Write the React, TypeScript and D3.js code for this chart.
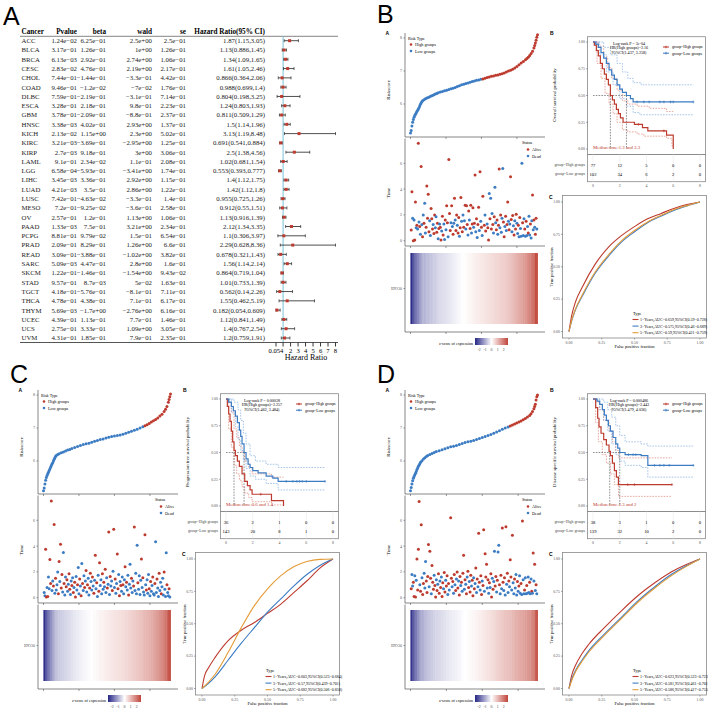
import React from "react";
import * as d3 from "d3";

// ---------- panel A : pan-cancer Cox table ----------
const cancers = ["ACC", "BLCA", "BRCA", "CESC", "CHOL", "COAD", "DLBC", "ESCA", "GBM", "HNSC", "KICH", "KIRC", "KIRP", "LAML", "LGG", "LIHC", "LUAD", "LUSC", "MESO", "OV", "PAAD", "PCPG", "PRAD", "READ", "SARC", "SKCM", "STAD", "TGCT", "THCA", "THYM", "UCEC", "UCS", "UVM"];
const pValues = ["1.24e−02", "3.17e−01", "6.13e−03", "2.83e−02", "7.44e−01", "9.46e−01", "7.59e−01", "3.28e−01", "3.78e−01", "3.38e−03", "2.13e−02", "3.21e−03", "2.7e−03", "9.1e−01", "6.58e−04", "3.45e−03", "4.21e−03", "7.42e−01", "7.2e−01", "2.57e−01", "1.33e−03", "8.81e−01", "2.09e−01", "3.09e−01", "5.09e−03", "1.22e−01", "9.57e−01", "4.18e−01", "4.78e−01", "5.69e−03", "4.39e−01", "2.75e−01", "4.31e−01"];
const betas = ["6.25e−01", "1.26e−01", "2.92e−01", "4.76e−01", "−1.44e−01", "−1.2e−02", "−2.19e−01", "2.18e−01", "−2.09e−01", "4.02e−01", "1.15e+00", "−3.69e−01", "9.18e−01", "2.34e−02", "−5.93e−01", "3.36e−01", "3.5e−01", "−4.63e−02", "−9.25e−02", "1.2e−01", "7.5e−01", "9.79e−02", "8.29e−01", "−3.88e−01", "4.47e−01", "−1.46e−01", "8.7e−03", "−5.76e−01", "4.38e−01", "−1.7e+00", "1.13e−01", "3.33e−01", "1.85e−01"];
const walds = ["2.5e+00", "1e+00", "2.74e+00", "2.19e+00", "−3.3e−01", "−7e−02", "−3.1e−01", "9.8e−01", "−8.8e−01", "2.93e+00", "2.3e+00", "−2.95e+00", "3e+00", "1.1e−01", "−3.41e+00", "2.92e+00", "2.86e+00", "−3.3e−01", "−3.6e−01", "1.13e+00", "3.21e+00", "1.5e−01", "1.26e+00", "−1.02e+00", "2.8e+00", "−1.54e+00", "5e−02", "−8.1e−01", "7.1e−01", "−2.76e+00", "7.7e−01", "1.09e+00", "7.9e−01"];
const ses = ["2.5e−01", "1.26e−01", "1.06e−01", "2.17e−01", "4.42e−01", "1.76e−01", "7.14e−01", "2.23e−01", "2.37e−01", "1.37e−01", "5.02e−01", "1.25e−01", "3.06e−01", "2.08e−01", "1.74e−01", "1.15e−01", "1.22e−01", "1.4e−01", "2.58e−01", "1.06e−01", "2.34e−01", "6.54e−01", "6.6e−01", "3.82e−01", "1.6e−01", "9.43e−02", "1.63e−01", "7.11e−01", "6.17e−01", "6.16e−01", "1.46e−01", "3.05e−01", "2.35e−01"];
const hrLabels = ["1.87(1.15,3.05)", "1.13(0.886,1.45)", "1.34(1.09,1.65)", "1.61(1.05,2.46)", "0.866(0.364,2.06)", "0.988(0.699,1.4)", "0.804(0.198,3.25)", "1.24(0.803,1.93)", "0.811(0.509,1.29)", "1.5(1.14,1.96)", "3.13(1.19,8.48)", "0.691(0.541,0.884)", "2.5(1.38,4.56)", "1.02(0.681,1.54)", "0.553(0.393,0.777)", "1.4(1.12,1.75)", "1.42(1.12,1.8)", "0.955(0.725,1.26)", "0.912(0.55,1.51)", "1.13(0.916,1.39)", "2.12(1.34,3.35)", "1.1(0.306,3.97)", "2.29(0.628,8.36)", "0.678(0.321,1.43)", "1.56(1.14,2.14)", "0.864(0.719,1.04)", "1.01(0.733,1.39)", "0.562(0.14,2.26)", "1.55(0.462,5.19)", "0.182(0.054,0.609)", "1.12(0.841,1.49)", "1.4(0.767,2.54)", "1.2(0.759,1.91)"];
const hrTicks = [0.054, 1, 2, 3, 4, 5, 6, 7, 8];

// ---------- panels B/C/D : risk score, time, heatmap ----------
const riskB = [[0,5.12],[1,5.2],[2,5.33],[3,5.45],[4,5.53],[5,5.6],[6,5.65],[7,5.69],[8,5.73],[9,5.77],[10,5.81],[11,5.85],[12,5.89],[13,5.94],[14,5.99],[15,6.03],[16,6.07],[17,6.1],[19,6.13],[21,6.16],[23,6.18],[25,6.2],[27,6.22],[29,6.24],[31,6.26],[33,6.28],[35,6.3],[37,6.32],[39,6.34],[42,6.36],[45,6.38],[48,6.4],[51,6.42],[54,6.44],[57,6.46],[60,6.48],[63,6.5],[66,6.53],[69,6.55],[72,6.58],[75,6.6],[78,6.62],[81,6.64],[84,6.66],[87,6.68],[90,6.7],[93,6.72],[96,6.73],[99,6.75],[102,6.76],[105,6.78],[108,6.8],[111,6.82],[114,6.84],[117,6.85],[120,6.87],[123,6.88],[126,6.9],[129,6.92],[132,6.94],[135,6.97],[138,7.0],[141,7.02],[144,7.05],[147,7.09],[150,7.14],[153,7.19],[156,7.24],[159,7.29],[162,7.34],[164,7.38],[166,7.42],[168,7.47],[170,7.53],[172,7.6],[174,7.7],[175,7.77],[176,7.85],[177,7.93],[178,8.02],[179,8.1]];
const riskC = [[0,5.1],[1,5.18],[2,5.3],[3,5.42],[4,5.5],[5,5.56],[6,5.61],[7,5.66],[8,5.71],[9,5.76],[10,5.81],[11,5.86],[12,5.91],[13,5.95],[14,6.0],[15,6.05],[16,6.1],[17,6.14],[18,6.17],[20,6.2],[22,6.22],[25,6.25],[28,6.27],[31,6.3],[34,6.33],[37,6.35],[40,6.38],[44,6.41],[48,6.44],[52,6.47],[56,6.5],[60,6.52],[64,6.54],[68,6.57],[72,6.6],[76,6.62],[80,6.65],[84,6.67],[88,6.7],[92,6.72],[96,6.74],[100,6.76],[104,6.77],[108,6.79],[112,6.81],[116,6.84],[120,6.87],[124,6.9],[128,6.93],[132,6.96],[136,7.0],[140,7.04],[143,7.07],[146,7.1],[149,7.14],[152,7.18],[155,7.22],[158,7.26],[161,7.3],[164,7.36],[167,7.42],[170,7.5],[172,7.57],[174,7.65],[176,7.78],[177,7.86],[178,7.95],[179,8.03]];
const riskD = [[0,5.1],[1,5.2],[2,5.3],[3,5.4],[4,5.48],[5,5.53],[6,5.58],[7,5.63],[8,5.68],[9,5.74],[10,5.79],[11,5.84],[12,5.88],[13,5.92],[14,5.96],[16,6.01],[18,6.06],[20,6.1],[22,6.14],[24,6.17],[27,6.2],[30,6.23],[33,6.26],[36,6.29],[40,6.31],[44,6.34],[48,6.37],[52,6.4],[56,6.43],[60,6.45],[64,6.47],[68,6.5],[72,6.53],[76,6.56],[80,6.58],[84,6.6],[88,6.62],[92,6.65],[96,6.68],[100,6.71],[104,6.74],[108,6.77],[112,6.8],[116,6.84],[120,6.88],[124,6.92],[128,6.96],[132,7.0],[136,7.03],[139,7.06],[142,7.09],[145,7.12],[148,7.15],[151,7.18],[154,7.21],[157,7.25],[160,7.29],[163,7.33],[166,7.38],[168,7.43],[170,7.5],[172,7.58],[173,7.65],[174,7.72],[175,7.85],[176,7.95],[177,8.0]];

// [rank, years, alive]
const timesB = [[1,0.83,1],[2,3.8,1],[3,1.75,0],[4,0,1],[5,1.6,0],[6,0.05,1],[7,3.0,1],[8,1.0,0],[9,1.2,1],[10,0.9,0],[11,7.55,1],[12,1.45,0],[13,1.1,1],[14,0.5,0],[15,5.75,1],[16,1.25,0],[17,0.3,1],[18,2.0,0],[19,1.35,1],[20,2.9,0],[21,0.6,0],[22,1.05,1],[23,4.25,1],[24,1.75,1],[25,3.6,1],[26,0.7,1],[27,1.55,0],[28,0.4,0],[29,2.5,1],[30,1.7,1],[31,0.9,1],[32,1.25,0],[33,0.55,1],[34,2.0,1],[35,1.0,0],[36,1.85,0],[37,0.65,1],[38,1.35,1],[39,0.15,0],[40,0.95,1],[41,1.3,0],[42,1.05,1],[43,0.05,1],[44,0.75,0],[45,1.9,1],[46,0.45,1],[47,1.3,0],[48,0.1,0],[49,1.6,1],[50,0.85,0],[51,2.7,1],[52,1.4,1],[53,0.3,0],[54,6.3,1],[55,2.1,1],[56,0.8,1],[57,1.4,0],[58,2.7,1],[59,1.1,0],[60,0.5,1],[61,1.35,0],[62,3.3,1],[63,1.6,0],[64,0.8,1],[65,2.0,1],[66,1.2,0],[67,0.6,1],[68,1.8,1],[69,0.35,0],[70,1.0,1],[71,3.35,1],[72,1.5,0],[73,0.7,1],[74,2.0,0],[75,1.05,1],[76,1.55,0],[77,2.75,1],[78,0.9,0],[79,2.7,1],[80,1.25,1],[81,0.45,0],[82,2.3,1],[83,1.6,0],[84,0.95,1],[85,2.75,1],[86,0.6,0],[87,1.3,1],[88,2.55,1],[89,1.05,0],[90,1.35,1],[91,5.1,1],[92,0.7,0],[93,1.7,1],[94,0.25,0],[95,1.25,1],[96,2.6,1],[97,0.8,0],[98,5.35,1],[99,1.5,0],[100,1.05,1],[101,0.4,0],[102,3.45,1],[104,1.2,1],[105,2.0,0],[106,0.75,1],[108,1.3,0],[109,1.0,1],[110,0.05,1],[111,3.65,0],[112,1.7,1],[113,3.3,0],[114,0.9,1],[115,2.1,0],[116,1.25,1],[117,0.6,0],[118,1.85,1],[119,4.15,0],[120,1.4,0],[121,0.85,1],[122,1.6,1],[123,0.5,0],[124,1.2,1],[125,5.55,1],[126,1.0,0],[127,2.0,1],[128,0.65,0],[129,1.75,0],[130,5.6,0],[131,1.45,1],[132,0.3,1],[133,1.1,0],[134,1.9,1],[135,0.8,0],[136,1.25,1],[137,3.0,1],[138,1.5,0],[139,0.85,1],[140,1.3,0],[141,4.95,1],[142,1.65,1],[143,0.7,0],[144,1.95,1],[145,1.15,0],[146,0.45,1],[147,1.55,0],[148,0.9,1],[149,2.05,1],[150,1.35,0],[151,0.55,0],[152,1.2,1],[153,0.3,0],[154,1.8,1],[155,0.95,0],[156,0.35,0],[157,6.0,0],[158,1.4,1],[159,0.4,0],[160,1.7,0],[161,0.9,1],[162,0.35,0],[163,1.5,1],[164,0.4,0],[165,1.1,0],[166,0.6,1],[167,1.9,0],[168,0.45,0],[169,1.3,1],[170,0.2,0],[171,1.55,0],[172,3.55,1],[173,0.85,0],[174,1.6,1],[175,1.05,0],[176,0.5,1],[177,1.75,1],[178,0.9,0]];
const timesC = [[1,0.4,0],[2,0.15,0],[3,3.75,1],[4,0.05,1],[5,0.8,0],[6,0.1,1],[7,1.6,0],[8,0.7,0],[9,2.97,1],[10,1.1,1],[11,7.5,1],[12,0.55,0],[13,1.3,0],[14,0.9,1],[15,5.67,1],[16,0.35,0],[17,1.5,1],[18,0.6,0],[19,1.0,0],[20,2.0,0],[21,0.3,1],[22,2.8,1],[23,1.25,0],[24,4.15,1],[25,0.75,1],[26,1.8,1],[27,0.45,0],[28,3.5,0],[29,1.1,1],[30,0.2,0],[31,1.6,0],[32,0.85,1],[33,1.4,1],[34,0.5,0],[35,1.05,0],[36,1.85,1],[37,0.65,1],[38,0.25,0],[39,1.3,0],[40,0.95,1],[41,1.55,0],[42,0.4,1],[43,0.8,0],[44,1.2,1],[45,0.05,1],[46,1.65,0],[47,0.6,0],[48,1.0,1],[49,2.35,0],[50,0.3,0],[51,1.45,1],[52,0.9,0],[53,0.15,1],[54,2.66,0],[55,1.1,1],[56,0.55,0],[57,1.7,0],[58,0.8,1],[59,1.3,0],[60,2.1,1],[61,0.45,0],[62,1.0,1],[63,1.5,0],[64,0.2,0],[65,0.75,1],[66,1.9,1],[67,1.25,0],[68,0.6,0],[69,1.6,1],[70,0.9,0],[71,0.35,1],[72,1.35,0],[73,3.3,1],[74,0.7,0],[75,1.15,1],[76,0.1,0],[77,1.75,0],[78,0.5,1],[79,2.7,1],[80,0.95,0],[81,1.4,0],[82,0.3,0],[83,1.85,1],[84,0.65,0],[85,1.2,1],[86,0.85,0],[87,2.2,1],[88,0.4,0],[89,1.55,0],[90,0.75,1],[91,1.05,0],[92,5.1,1],[93,0.25,0],[94,1.65,1],[95,0.9,0],[96,1.3,0],[97,0.55,1],[98,2.05,0],[99,5.3,1],[100,0.8,0],[101,1.45,1],[102,0.35,0],[103,1.1,0],[104,3.38,1],[105,0.7,1],[106,1.8,0],[107,0.15,1],[108,1.25,0],[109,0.95,1],[110,0.5,0],[111,1.6,0],[112,1.0,1],[113,0.3,0],[114,1.4,0],[115,2.4,1],[116,0.85,0],[117,1.2,1],[118,0.6,0],[119,1.75,0],[120,0.2,1],[121,1.05,0],[122,2.6,0],[123,0.75,0],[124,1.5,1],[125,0.4,0],[126,1.3,0],[127,0.9,1],[128,5.48,1],[129,0.55,0],[130,1.9,0],[131,0.3,0],[132,4.07,0],[133,1.15,1],[134,0.65,0],[135,1.7,0],[136,0.25,0],[137,1.35,0],[138,3.0,1],[139,0.8,0],[140,1.55,1],[141,0.45,0],[142,0.2,0],[143,4.88,1],[144,1.0,0],[145,0.6,1],[146,1.4,0],[147,0.35,0],[148,1.8,0],[149,0.7,1],[150,0.15,0],[151,1.25,1],[152,0.5,0],[153,0.95,0],[154,1.6,1],[155,0.3,0],[156,0.2,0],[157,1.1,1],[158,4.33,0],[159,0.4,0],[160,1.45,1],[161,0.75,0],[162,0.1,0],[163,1.9,1],[164,0.55,0],[165,1.2,0],[166,0.3,1],[167,0.85,0],[168,1.5,0],[169,0.2,0],[170,2.0,1],[171,0.65,0],[172,0.1,0],[173,3.48,0],[174,1.0,1],[175,0.4,0],[176,0.15,0],[177,0.7,1],[178,0.05,0]];
const timesD = [[1,0.7,1],[2,1.8,0],[3,0.9,0],[4,1.2,1],[5,0.1,1],[6,1.7,0],[7,0.05,1],[8,1.35,0],[9,3.0,1],[10,0.6,1],[11,3.75,1],[12,7.45,1],[13,1.0,0],[14,0.5,1],[15,5.65,1],[16,1.55,0],[17,0.25,1],[18,1.1,1],[19,1.9,0],[20,0.75,0],[21,2.8,0],[22,1.3,1],[23,0.4,1],[24,1.65,1],[25,4.13,1],[26,0.85,0],[27,3.6,1],[28,1.5,1],[29,0.3,0],[30,2.5,1],[31,1.2,1],[32,0.65,1],[33,1.75,0],[34,0.95,1],[35,0.05,1],[36,1.4,0],[37,0.55,1],[38,1.05,0],[39,1.85,1],[40,0.35,1],[41,1.3,0],[42,0.8,1],[43,1.6,0],[44,0.1,1],[45,1.15,1],[46,0.7,0],[47,1.95,1],[48,0.45,1],[49,1.35,0],[50,0.9,1],[51,1.7,1],[52,0.25,0],[53,1.1,1],[54,0.6,0],[56,6.2,1],[57,1.5,1],[58,0.85,0],[59,1.25,1],[60,0.35,0],[61,1.8,1],[62,1.0,0],[63,0.55,1],[64,1.45,0],[65,2.0,1],[66,0.75,1],[67,1.3,0],[68,0.2,1],[69,1.65,1],[70,0.95,0],[71,1.2,1],[72,0.5,0],[73,1.9,1],[74,3.3,1],[75,0.65,0],[76,1.4,1],[77,1.05,0],[78,0.3,1],[79,1.6,0],[80,2.05,1],[81,0.8,1],[82,1.25,0],[83,0.45,1],[84,1.75,1],[85,0.9,0],[86,1.35,1],[87,0.15,1],[88,1.55,0],[89,0.7,1],[90,1.1,0],[91,2.3,1],[92,0.4,0],[93,1.45,1],[94,0.85,0],[95,5.0,1],[96,1.2,1],[97,0.6,0],[98,1.7,1],[99,0.25,1],[100,1.3,0],[101,0.95,1],[102,5.27,1],[103,0.5,0],[104,3.4,1],[105,1.6,1],[106,2.6,1],[107,0.75,0],[108,1.4,1],[109,0.35,0],[110,1.15,1],[111,0.8,0],[112,1.85,1],[113,0.05,1],[114,1.5,0],[115,0.65,1],[116,1.25,0],[117,3.6,0],[118,0.9,1],[119,1.65,1],[120,0.45,0],[121,1.35,1],[122,3.55,0],[123,4.06,0],[124,1.0,1],[125,0.3,0],[126,1.75,1],[127,0.7,0],[128,5.4,1],[129,1.2,1],[130,0.55,0],[131,1.55,1],[132,0.2,0],[133,5.5,1],[134,1.05,0],[135,1.9,1],[136,0.4,0],[137,1.3,1],[138,0.85,0],[139,2.95,1],[140,1.6,1],[141,0.6,0],[142,4.85,1],[143,1.15,0],[144,0.3,0],[145,1.45,1],[146,0.75,0],[147,1.8,0],[148,0.2,0],[149,1.25,1],[150,0.5,0],[151,0.9,1],[152,1.7,0],[153,0.35,0],[154,1.1,1],[155,0.25,0],[156,5.95,1],[157,1.4,0],[158,0.3,0],[159,0.6,1],[160,1.55,0],[161,0.3,0],[162,0.95,1],[163,0.35,0],[164,1.6,0],[165,0.4,0],[166,1.2,1],[167,0.3,0],[168,1.45,0],[169,0.5,1],[170,0.35,0],[171,3.46,1],[172,1.3,0],[173,2.6,1],[174,0.55,0],[175,1.0,1],[176,0.3,0]];

// ---------- Kaplan-Meier steps [years, survival] ----------
const kmHighB = [[0,1],[0.1,0.97],[0.25,0.92],[0.4,0.87],[0.55,0.8],[0.7,0.75],[0.85,0.7],[1.0,0.65],[1.15,0.6],[1.3,0.5],[1.45,0.46],[1.6,0.42],[1.75,0.37],[1.9,0.33],[2.05,0.29],[2.25,0.25],[3.1,0.23],[3.7,0.2],[4.1,0.17],[5.5,0.13],[6.0,0]];
const kmLowB = [[0,1],[0.2,0.98],[0.4,0.95],[0.6,0.9],[0.8,0.85],[1.0,0.8],[1.2,0.74],[1.4,0.69],[1.6,0.65],[1.8,0.6],[2.0,0.56],[2.2,0.53],[2.5,0.5],[2.8,0.47],[3.0,0.44],[7.5,0.44]];
const ciHighB = [[[0,1],[0.4,0.96],[0.8,0.86],[1.1,0.76],[1.4,0.66],[1.8,0.55],[2.2,0.45],[2.6,0.42],[3.3,0.4],[4.2,0.38],[5.5,0.35],[6,0.35]], [[0,1],[0.3,0.8],[0.6,0.66],[0.9,0.52],[1.2,0.42],[1.5,0.33],[1.8,0.25],[2.2,0.18],[2.6,0.16],[3.3,0.14],[3.8,0.12],[5.5,0.1],[5.9,0.03],[6,0.03]]];
const ciLowB = [[[0,1],[0.8,0.95],[1.3,0.88],[1.8,0.8],[2.2,0.72],[2.6,0.66],[3.0,0.62],[3.6,0.6],[7.5,0.6]], [[0,1],[0.5,0.88],[1.0,0.72],[1.5,0.6],[2.0,0.47],[2.5,0.4],[3.0,0.34],[3.5,0.32],[7.5,0.32]]];
const censorHighB = [3.4, 5.3];
const censorLowB = [3.3, 3.8, 4.2, 5.0, 5.3, 5.8, 6.0, 7.5];

const kmHighC = [[0,1],[0.1,0.93],[0.2,0.86],[0.3,0.79],[0.4,0.7],[0.5,0.6],[0.6,0.52],[0.7,0.47],[0.85,0.42],[1.0,0.37],[1.2,0.3],[1.4,0.23],[1.6,0.19],[1.8,0.15],[1.95,0.11],[3.4,0.05],[4.3,0]];
const kmLowC = [[0,1],[0.2,0.97],[0.4,0.93],[0.55,0.89],[0.7,0.84],[0.85,0.78],[1.0,0.71],[1.1,0.65],[1.2,0.58],[1.35,0.5],[1.5,0.44],[1.65,0.39],[1.8,0.36],[2.0,0.33],[2.4,0.31],[3.0,0.28],[3.5,0.26],[3.9,0.23],[7.4,0.23]];
const ciHighC = [[[0,1],[0.2,0.97],[0.4,0.88],[0.6,0.72],[0.8,0.64],[1.0,0.56],[1.2,0.5],[1.4,0.42],[1.7,0.36],[1.95,0.3],[3.4,0.27],[4.3,0.27]], [[0,1],[0.2,0.72],[0.4,0.55],[0.6,0.38],[0.8,0.3],[1.0,0.24],[1.2,0.18],[1.4,0.12],[1.7,0.08],[1.95,0.04],[3.4,0.01],[4.3,0.01]]];
const ciLowC = [[[0,1],[0.6,0.97],[0.9,0.9],[1.1,0.8],[1.3,0.68],[1.5,0.58],[1.8,0.47],[2.2,0.42],[3.0,0.39],[3.9,0.36],[7.4,0.36]], [[0,1],[0.4,0.87],[0.7,0.74],[0.9,0.62],[1.1,0.52],[1.3,0.43],[1.5,0.35],[1.8,0.28],[2.2,0.25],[3.0,0.21],[3.9,0.15],[7.4,0.15]]];
const censorHighC = [2.6];
const censorLowC = [4.5, 5.0, 5.3, 5.5, 5.7, 6.0, 7.4];

const kmHighD = [[0,1],[0.2,0.92],[0.35,0.82],[0.45,0.74],[0.6,0.68],[0.8,0.62],[1.0,0.57],[1.2,0.51],[1.3,0.47],[1.45,0.4],[1.6,0.33],[1.75,0.27],[1.9,0.2],[5.9,0.2]];
const kmLowD = [[0,1],[0.3,0.98],[0.5,0.95],[0.7,0.9],[0.85,0.85],[1.0,0.8],[1.15,0.75],[1.3,0.7],[1.5,0.64],[1.7,0.58],[1.85,0.54],[2.0,0.5],[2.4,0.48],[3.6,0.47],[4.1,0.38],[7.5,0.38]];
const ciHighD = [[[0,1],[0.3,0.97],[0.5,0.9],[0.8,0.8],[1.2,0.7],[1.45,0.6],[1.7,0.52],[1.9,0.45],[5.9,0.45]], [[0,1],[0.2,0.78],[0.4,0.6],[0.7,0.48],[1.0,0.4],[1.3,0.3],[1.6,0.2],[1.9,0.09],[5.9,0.09]]];
const ciLowD = [[[0,1],[0.8,0.97],[1.1,0.9],[1.4,0.83],[1.7,0.75],[2.0,0.66],[2.4,0.6],[3.6,0.58],[4.1,0.56],[7.5,0.56]], [[0,1],[0.5,0.9],[0.8,0.8],[1.1,0.7],[1.4,0.58],[1.7,0.48],[2.0,0.42],[2.4,0.38],[3.6,0.36],[4.1,0.27],[7.5,0.27]]];
const censorHighD = [2.6, 3.1, 5.9];
const censorLowD = [2.65, 3.0, 3.2, 4.6, 5.0, 5.3, 5.7, 7.5];

const atRiskTimes = [0, 2, 4, 6, 8];
const atRiskB = [[77, 12, 5, 0, 0], [102, 34, 6, 2, 0]];
const atRiskC = [[36, 2, 1, 0, 0], [143, 20, 8, 1, 0]];
const atRiskD = [[38, 3, 1, 0, 0], [139, 32, 10, 2, 0]];

// ---------- time-dependent ROC [fpr, tpr] : 1, 3, 5 years ----------
const rocB = [
  [[0,0],[0.02,0.12],[0.05,0.23],[0.1,0.34],[0.2,0.52],[0.3,0.65],[0.4,0.74],[0.5,0.81],[0.6,0.87],[0.7,0.91],[0.8,0.95],[0.9,0.98],[1,1]],
  [[0,0],[0.02,0.08],[0.05,0.17],[0.1,0.27],[0.2,0.45],[0.3,0.58],[0.4,0.69],[0.5,0.77],[0.6,0.84],[0.7,0.89],[0.8,0.935],[0.9,0.97],[1,1]],
  [[0,0],[0.02,0.085],[0.05,0.175],[0.1,0.28],[0.2,0.46],[0.3,0.59],[0.4,0.7],[0.5,0.78],[0.6,0.845],[0.7,0.895],[0.8,0.94],[0.9,0.972],[1,1]],
];
const rocC = [
  [[0,0],[0.02,0.1],[0.05,0.16],[0.1,0.24],[0.2,0.37],[0.3,0.45],[0.4,0.51],[0.5,0.58],[0.6,0.65],[0.7,0.74],[0.8,0.83],[0.9,0.93],[1,1]],
  [[0,0],[0.05,0.04],[0.1,0.09],[0.2,0.22],[0.3,0.35],[0.4,0.47],[0.5,0.59],[0.6,0.69],[0.7,0.79],[0.8,0.88],[0.9,0.95],[1,1]],
  [[0,0],[0.05,0.05],[0.1,0.11],[0.2,0.28],[0.3,0.47],[0.4,0.64],[0.5,0.77],[0.6,0.87],[0.7,0.94],[0.8,0.98],[0.9,0.997],[1,1]],
];
const rocD = [
  [[0,0],[0.02,0.1],[0.05,0.18],[0.1,0.27],[0.15,0.34],[0.27,0.47],[0.4,0.6],[0.53,0.72],[0.66,0.82],[0.78,0.9],[0.9,0.96],[1,1]],
  [[0,0],[0.02,0.07],[0.05,0.14],[0.1,0.22],[0.15,0.29],[0.27,0.42],[0.4,0.55],[0.53,0.68],[0.66,0.79],[0.78,0.88],[0.9,0.95],[1,1]],
  [[0,0],[0.02,0.06],[0.05,0.13],[0.1,0.21],[0.15,0.28],[0.27,0.41],[0.4,0.54],[0.53,0.67],[0.66,0.78],[0.78,0.87],[0.9,0.945],[1,1]],
];
const rocLabelsB = ["1−Years,AUC=0.659,95%CI(0.59−0.728)", "3−Years,AUC=0.575,95%CI(0.46−0.689)", "5−Years,AUC=0.59,95%CI(0.421−0.759)"];
const rocLabelsC = ["1−Years,AUC=0.603,95%CI(0.523−0.684)", "3−Years,AUC=0.57,95%CI(0.439−0.701)", "5−Years,AUC=0.682,95%CI(0.506−0.858)"];
const rocLabelsD = ["1−Years,AUC=0.623,95%CI(0.523−0.723)", "3−Years,AUC=0.581,95%CI(0.461−0.701)", "5−Years,AUC=0.586,95%CI(0.417−0.755)"];

const RED = "#BD3B2E";
const BLUE = "#3C7CC3";
const ORANGE = "#E39B38";
const serif = '"Liberation Serif", "Times New Roman", serif';
const sans = '"Liberation Sans", Arial, sans-serif';

const panels = [
  { key: "B", dx: 0, dy: 0, letterY: 23, n: 179, lowCount: 102, risk: riskB, times: timesB, kmHigh: kmHighB, kmLow: kmLowB, ciHigh: ciHighB, ciLow: ciLowB, censorHigh: censorHighB, censorLow: censorLowB, medians: [1.3, 2.5], atRisk: atRiskB, roc: rocB, rocLabels: rocLabelsB, yLabel: "Overall survival probability", stats: ["Log-rank P = 3e-04", "HR(High groups)=2.16", "95%CI(1.437, 3.258)"], medianText: "Median time:1.3 and 3.3", gene: "IDO30" },
  { key: "C", dx: -367, dy: 357, letterY: 26, n: 179, lowCount: 143, risk: riskC, times: timesC, kmHigh: kmHighC, kmLow: kmLowC, ciHigh: ciHighC, ciLow: ciLowC, censorHigh: censorHighC, censorLow: censorLowC, medians: [0.6, 1.35], atRisk: atRiskC, roc: rocC, rocLabels: rocLabelsC, yLabel: "Progression free survival probability", stats: ["Log-rank P = 0.00028", "HR(High groups)=2.257", "95%CI(1.462, 3.484)"], medianText: "Median time:0.6 and 1.4", gene: "IDO30" },
  { key: "D", dx: 0, dy: 357, letterY: 26, n: 177, lowCount: 139, risk: riskD, times: timesD, kmHigh: kmHighD, kmLow: kmLowD, ciHigh: ciHighD, ciLow: ciLowD, censorHigh: censorHighD, censorLow: censorLowD, medians: [1.25, 2.0], atRisk: atRiskD, roc: rocD, rocLabels: rocLabelsD, yLabel: "Disease specific survival probability", stats: ["Log-rank P = 0.000486", "HR(High groups)=2.443", "95%CI(1.479, 4.036)"], medianText: "Median time:1.3 and 2", gene: "IDO30" },
];

function PanelA() {
  const y = d3.scalePoint<string>().domain(cancers).range([40.7, 338]);
  const x = d3.scaleLinear().domain([0.054, 8]).range([276, 335.5]).clamp(true);
  const hr = hrLabels.map((s) => {
    const m = s.match(/([\d.]+)\(([\d.]+),([\d.]+)\)/)!;
    return [+m[1], +m[2], +m[3]];
  });
  const cols = [
    { right: 77, head: "Pvalue", vals: pValues },
    { right: 106, head: "beta", vals: betas },
    { right: 152, head: "wald", vals: walds },
    { right: 186, head: "se", vals: ses },
    { right: 265, head: "Hazard Ratio(95% CI)", vals: hrLabels },
  ];
  const fs = 6.8;
  const base = 342.5;
  return (
    <g fontFamily={serif}>
      <text x={3} y={25} fontFamily={sans} fontSize={25}>A</text>
      <text x={21.5} y={34.3} fontSize={7.2} fontWeight="bold">Cancer</text>
      {cols.map((c) => (
        <text key={c.head} x={c.right} y={34.3} fontSize={7.2} fontWeight="bold" textAnchor="end">{c.head}</text>
      ))}
      <line x1={20} x2={338} y1={36.3} y2={36.3} stroke="#777" strokeWidth={0.9} />
      {cancers.map((c, i) => (
        <g key={c} fontSize={fs} fill="#222">
          <text x={21.5} y={y(c)! + 2.4}>{c}</text>
          {cols.map((col) => (
            <text key={col.head} x={col.right} y={y(c)! + 2.4} textAnchor="end">{col.vals[i]}</text>
          ))}
        </g>
      ))}
      <line x1={x(1)} x2={x(1)} y1={36.5} y2={base} stroke="#79C3D6" strokeWidth={1} />
      {hr.map((d, i) => {
        const yy = y(cancers[i])!;
        return (
          <g key={i}>
            <line x1={x(d[1])} x2={x(d[2])} y1={yy} y2={yy} stroke="#222" strokeWidth={0.8} />
            <line x1={x(d[1])} x2={x(d[1])} y1={yy - 1.5} y2={yy + 1.5} stroke="#222" strokeWidth={0.7} />
            <line x1={x(d[2])} x2={x(d[2])} y1={yy - 1.5} y2={yy + 1.5} stroke="#222" strokeWidth={0.7} />
            <rect x={x(d[0]) - 1.5} y={yy - 1.5} width={3} height={3} fill={RED} />
          </g>
        );
      })}
      <line x1={20} x2={338} y1={base} y2={base} stroke="#555" strokeWidth={1.2} />
      {hrTicks.map((t) => (
        <g key={t}>
          <line x1={x(t)} x2={x(t)} y1={base} y2={base + 4} stroke="#222" strokeWidth={0.9} />
          {t !== 1 && <text x={x(t)} y={base + 10} fontSize={6.6} textAnchor="middle">{t}</text>}
        </g>
      ))}
      <text x={306} y={base + 17.5} fontSize={8} textAnchor="middle">Hazard Ratio</text>
    </g>
  );
}

function RiskPanel({ p }: { p: any }) {
  const rx = d3.scaleLinear().domain([0, p.n]).range([410.5, 537.5]);
  const ry = d3.scaleLinear().domain([8, 6]).range([38, 104]);
  const ty = d3.scaleLinear().domain([0, 6]).range([240.7, 163.3]);
  const kx = d3.scaleLinear().domain([0, 8]).range([593, 700]);
  const ky = d3.scaleLinear().domain([0, 1]).range([149, 42]);
  const cx = d3.scaleLinear().domain([0, 1]).range([569, 700]);
  const cy = d3.scaleLinear().domain([0, 1]).range([331.5, 202]);
  const step = d3.line<number[]>().x((d) => kx(d[0])).y((d) => ky(d[1])).curve(d3.curveStepAfter);
  const smooth = d3.line<number[]>().x((d) => cx(d[0])).y((d) => cy(d[1])).curve(d3.curveMonotoneX);
  const vals = p.risk.map((d: number[]) => d[1]);
  const mu = d3.mean(vals)!;
  const sd = d3.deviation(vals)!;
  const zColor = d3.scaleLinear<string>().domain([-2, 0, 2]).range(["#262686", "#ffffff", "#C0453A"]).clamp(true);
  const gradId = "zgrad" + p.key;
  const rankTicks = [0, 50, 100, 150];
  const axisC = "#555";
  const survAt = (km: number[][], t: number) => {
    let s = 1;
    km.forEach((d) => { if (d[0] <= t) s = d[1]; });
    return s;
  };
  const plus = (x0: number, y0: number, c: string, k: string) => (
    <g key={k} stroke={c} strokeWidth={0.6}>
      <line x1={x0} x2={x0} y1={y0 - 1.4} y2={y0 + 1.4} />
      <line x1={x0 - 1.2} x2={x0 + 1.2} y1={y0} y2={y0} />
    </g>
  );
  return (
    <g transform={`translate(${p.dx},${p.dy})`} fontFamily={serif}>
      <text x={377} y={p.letterY} fontFamily={sans} fontSize={25}>{p.key}</text>

      {/* risk score curve */}
      <text x={385.5} y={35} fontFamily={sans} fontSize={5} fontWeight="bold">A</text>
      <line x1={405} x2={405} y1={33} y2={137} stroke={axisC} strokeWidth={0.7} />
      {[8, 7, 6].map((v) => (
        <g key={v}>
          <line x1={403.5} x2={405} y1={ry(v)} y2={ry(v)} stroke={axisC} strokeWidth={0.6} />
          <text x={402} y={ry(v) + 1.4} fontSize={4} fill="#555" textAnchor="end">{v}</text>
        </g>
      ))}
      <text transform={`translate(390,90) rotate(-90)`} fontSize={5} textAnchor="middle">Riskscore</text>
      {p.risk.map((d: number[], i: number) => (
        <circle key={i} cx={rx(d[0])} cy={ry(d[1])} r={1.5} fill={d[0] < p.lowCount ? BLUE : RED} />
      ))}
      <text x={408} y={39.5} fontSize={4.2}>Risk Type</text>
      <circle cx={411} cy={44.5} r={1.3} fill={RED} />
      <text x={415} y={46} fontSize={4.2}>High groups</text>
      <circle cx={411} cy={51} r={1.3} fill={BLUE} />
      <text x={415} y={52.5} fontSize={4.2}>Low groups</text>
      <line x1={405} x2={545} y1={137} y2={137} stroke={axisC} strokeWidth={0.7} />
      {rankTicks.map((t) => <line key={t} x1={rx(t)} x2={rx(t)} y1={137} y2={139} stroke={axisC} strokeWidth={0.6} />)}

      {/* survival time scatter */}
      <line x1={405} x2={405} y1={138.5} y2={246} stroke={axisC} strokeWidth={0.7} />
      {[0, 2, 4, 6].map((v) => (
        <g key={v}>
          <line x1={403.5} x2={405} y1={ty(v)} y2={ty(v)} stroke={axisC} strokeWidth={0.6} />
          <text x={402} y={ty(v) + 1.4} fontSize={4} fill="#555" textAnchor="end">{v}</text>
        </g>
      ))}
      <text transform={`translate(390,193) rotate(-90)`} fontSize={5} textAnchor="middle">Time</text>
      {p.times.map((d: number[], i: number) => (
        <circle key={i} cx={rx(d[0])} cy={ty(d[1])} r={1.5} fill={d[2] ? RED : BLUE} />
      ))}
      <text x={522} y={143.5} fontSize={4.2}>Status</text>
      <circle cx={528} cy={149.5} r={1.3} fill={RED} />
      <text x={532} y={151} fontSize={4.2}>Alive</text>
      <circle cx={528} cy={156} r={1.3} fill={BLUE} />
      <text x={532} y={157.5} fontSize={4.2}>Dead</text>
      <line x1={405} x2={545} y1={246} y2={246} stroke={axisC} strokeWidth={0.7} />
      {rankTicks.map((t) => <line key={t} x1={rx(t)} x2={rx(t)} y1={246} y2={248} stroke={axisC} strokeWidth={0.6} />)}

      {/* expression heatmap */}
      <line x1={405} x2={405} y1={247.5} y2={332} stroke={axisC} strokeWidth={0.7} />
      {p.risk.map((d: number[], i: number) => {
        const a = i === 0 ? 0 : (p.risk[i - 1][0] + d[0]) / 2;
        const b = i === p.risk.length - 1 ? p.n : (d[0] + p.risk[i + 1][0]) / 2;
        return <rect key={i} x={rx(a)} y={253} width={rx(b) - rx(a) + 0.4} height={71} fill={zColor((d[1] - mu) / sd)} />;
      })}
      <line x1={403.5} x2={405} y1={288.5} y2={288.5} stroke={axisC} strokeWidth={0.6} />
      <text x={402} y={290} fontSize={4} fill="#555" textAnchor="end">{p.gene}</text>
      <line x1={405} x2={545} y1={332} y2={332} stroke={axisC} strokeWidth={0.7} />
      {rankTicks.map((t) => <line key={t} x1={rx(t)} x2={rx(t)} y1={332} y2={334} stroke={axisC} strokeWidth={0.6} />)}
      <defs>
        <linearGradient id={gradId} x1="0" x2="1" y1="0" y2="0">
          {[-2, -1, 0, 1, 2].map((z) => <stop key={z} offset={(z + 2) / 4} stopColor={zColor(z)} />)}
        </linearGradient>
      </defs>
      <text x={473} y={345} fontSize={4} textAnchor="end">z-score of expression</text>
      <rect x={475} y={338} width={33} height={7} fill={`url(#${gradId})`} />
      {[-2, -1, 0, 1, 2].map((z) => (
        <text key={z} x={479 + (z + 2) * 6.2} y={350.5} fontSize={3.8} fill="#444" textAnchor="middle">{z}</text>
      ))}

      {/* Kaplan-Meier */}
      <text x={550} y={35} fontFamily={sans} fontSize={5} fontWeight="bold">B</text>
      <text transform={`translate(556,95) rotate(-90)`} fontSize={4.8} textAnchor="middle">{p.yLabel}</text>
      <rect x={587.6} y={36.7} width={117.8} height={117.7} fill="none" stroke="#888" strokeWidth={0.8} />
      {[1, 0.75, 0.5, 0.25, 0].map((v) => (
        <g key={v}>
          <line x1={586} x2={587.6} y1={ky(v)} y2={ky(v)} stroke="#555" strokeWidth={0.5} />
          <text x={585} y={ky(v) + 1.3} fontSize={3.9} fill="#555" textAnchor="end">{v.toFixed(2)}</text>
        </g>
      ))}
      {[p.ciHigh, p.ciLow].map((ci: number[][][], j: number) =>
        ci.map((band, k) => (
          <path key={`${j}${k}`} d={step(band)!} fill="none" stroke={j === 0 ? "#D8705F" : "#6FA0D6"} strokeWidth={0.6} strokeDasharray="1.6,1.2" />
        ))
      )}
      <path d={`M${kx(0)},${ky(0.5)}H${kx(p.medians[1])}`} stroke="#444" strokeWidth={0.6} strokeDasharray="1.6,1.2" />
      {p.medians.map((m: number) => (
        <path key={m} d={`M${kx(m)},${ky(0.5)}V${ky(0)}`} stroke="#444" strokeWidth={0.6} strokeDasharray="1.6,1.2" />
      ))}
      <path d={step(p.kmHigh)!} fill="none" stroke={RED} strokeWidth={1.2} />
      <path d={step(p.kmLow)!} fill="none" stroke={BLUE} strokeWidth={1.2} />
      {p.censorHigh.map((t: number, i: number) => plus(kx(t), ky(survAt(p.kmHigh, t)), RED, "h" + i))}
      {p.censorLow.map((t: number, i: number) => plus(kx(t), ky(survAt(p.kmLow, t)), BLUE, "l" + i))}
      {p.stats.map((s: string, i: number) => (
        <text key={i} x={629} y={44.5 + i * 4.7} fontSize={4.1} textAnchor="middle">{s}</text>
      ))}
      <line x1={663} x2={669} y1={47} y2={47} stroke={RED} strokeWidth={1} />
      {plus(666, 47, RED, "lg1")}
      <text x={672} y={48.4} fontSize={3.9}>group=High groups</text>
      <line x1={663} x2={669} y1={53.2} y2={53.2} stroke={BLUE} strokeWidth={1} />
      {plus(666, 53.2, BLUE, "lg2")}
      <text x={672} y={54.6} fontSize={3.9}>group=Low groups</text>
      <text x={593} y={148.5} fontSize={4.8} fill={RED}>{p.medianText}</text>

      {/* numbers at risk */}
      <rect x={587.6} y={154.4} width={117.8} height={27.3} fill="none" stroke="#888" strokeWidth={0.8} />
      {atRiskTimes.map((t) => <line key={t} x1={kx(t)} x2={kx(t)} y1={154.4} y2={181.7} stroke="#E4E4E4" strokeWidth={0.5} />)}
      {["group=High groups", "group=Low groups"].map((g, j) => (
        <g key={g}>
          <text x={585} y={166.3 + j * 9} fontSize={3.9} fill="#444" textAnchor="end">{g}</text>
          {p.atRisk[j].map((v: number, k: number) => (
            <text key={k} x={kx(atRiskTimes[k])} y={166.6 + j * 9} fontSize={4.6} textAnchor="middle">{v}</text>
          ))}
        </g>
      ))}
      {atRiskTimes.map((t) => (
        <text key={t} x={kx(t)} y={187} fontSize={3.9} fill="#555" textAnchor="middle">{t}</text>
      ))}

      {/* time ROC */}
      <text x={549} y={199} fontFamily={sans} fontSize={5} fontWeight="bold">C</text>
      <rect x={562.5} y={195.5} width={144} height={142.5} fill="none" stroke="#888" strokeWidth={0.8} />
      {[0, 0.25, 0.5, 0.75, 1].map((v) => (
        <g key={v}>
          <line x1={561} x2={562.5} y1={cy(v)} y2={cy(v)} stroke="#555" strokeWidth={0.5} />
          <text x={560} y={cy(v) + 1.3} fontSize={3.9} fill="#555" textAnchor="end">{v.toFixed(2)}</text>
          <line x1={cx(v)} x2={cx(v)} y1={338} y2={339.5} stroke="#555" strokeWidth={0.5} />
          <text x={cx(v)} y={343.5} fontSize={3.9} fill="#555" textAnchor="middle">{v.toFixed(2)}</text>
        </g>
      ))}
      <text x={634.5} y={348} fontSize={4.5} textAnchor="middle">False positive fraction</text>
      <text transform={`translate(553,267) rotate(-90)`} fontSize={4.5} textAnchor="middle">True positive fraction</text>
      {p.roc.map((c: number[][], i: number) => (
        <path key={i} d={smooth(c)!} fill="none" stroke={[RED, BLUE, ORANGE][i]} strokeWidth={1.1} />
      ))}
      <text x={633} y={314.5} fontSize={4.3}>Type</text>
      {p.rocLabels.map((s: string, i: number) => (
        <g key={i}>
          <line x1={632.5} x2={638.5} y1={319.5 + i * 6.6} y2={319.5 + i * 6.6} stroke={[RED, BLUE, ORANGE][i]} strokeWidth={1.1} />
          <text x={640} y={320.9 + i * 6.6} fontSize={4}>{s}</text>
        </g>
      ))}
    </g>
  );
}

export default function App() {
  return (
    <svg width={708} height={709} style={{ position: "absolute", left: 0, top: 0, background: "#fff" }}>
      <rect width={708} height={709} fill="#fff" />
      <PanelA />
      {panels.map((p) => <RiskPanel key={p.key} p={p} />)}
    </svg>
  );
}
